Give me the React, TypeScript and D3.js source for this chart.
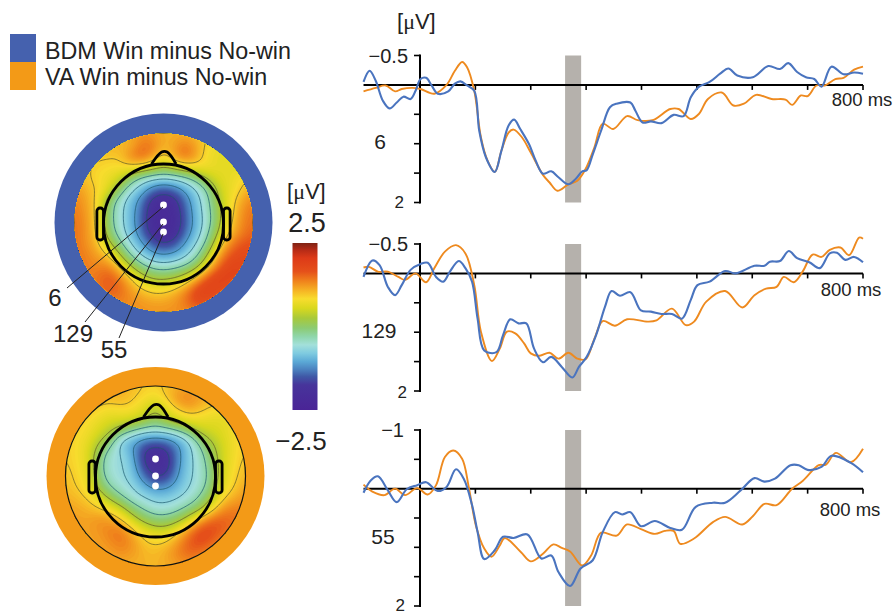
import { useMemo } from "react";
import * as d3 from "d3";

type Pt = [number, number];

const WIDTH = 895;
const HEIGHT = 615;
const FONT = "'Liberation Sans', Arial, sans-serif";
const BLUE = "#4561ae";
const ORANGE = "#f39a17";
const LINE_BLUE = "#4a74bf";
const LINE_ORANGE = "#ee8a1f";
const TEXT = "#222";

// [ms, µV]
const bdm6: Pt[] = [[-102,-.05],[-91,-.24],[-80,-.07],[-67,.27],[-55,.4],[-42,.3],[-30,.2],[-17,.24],[-8,.1],[1,-.1],[11,-.12],[21,.01],[32,.15],[51,.11],[63,-.02],[73,-.06],[85,.01],[98,.1],[107,.78],[119,1.23],[135,1.48],[147,1.12],[160,.69],[170,.59],[181,.75],[197,1.01],[209,1.29],[222,1.51],[237,1.47],[250,1.57],[268,1.69],[281,1.6],[293,1.47],[301,1.45],[312,1.18],[327,.78],[343,.38],[355,.32],[380,.3],[389,.44],[402,.64],[417,.62],[436,.65],[458,.51],[476,.53],[489,.21],[504,.03],[523,-.05],[542,-.19],[557,-.28],[573,-.16],[601,-.13],[629,-.32],[650,-.27],[665,-.37],[681,-.22],[697,-.13],[712,-.1],[725,.03],[743,-.31],[765,-.18],[784,-.21],[800,-.19]];
const va6: Pt[] = [[-102,.11],[-80,.05],[-62,.01],[-45,.11],[-33,.07],[-14,.05],[1,.07],[26,.15],[48,0],[63,-.24],[76,-.39],[85,-.3],[98,.1],[110,.89],[122,1.29],[135,1.48],[147,1.12],[160,.81],[169,.76],[184,.89],[200,1.15],[222,1.53],[234,1.66],[248,1.8],[268,1.69],[284,1.63],[299,1.43],[315,1.06],[330,.66],[349,.75],[374,.53],[393,.6],[420,.6],[452,.41],[467,.41],[489,.58],[504,.49],[520,.24],[545,.13],[566,.35],[585,.32],[607,.17],[635,.24],[660,.25],[672,.34],[688,.18],[700,.19],[716,.01],[731,.01],[750,-.1],[765,-.12],[784,-.26],[800,-.31]];
const bdm129: Pt[] = [[-102,.06],[-86,-.22],[-73,-.14],[-58,.23],[-45,.37],[-33,.2],[-17,-.06],[1,-.16],[14,-.18],[29,.06],[42,.14],[54,-.03],[70,-.21],[82,-.09],[94,.14],[104,.77],[116,1.31],[138,1.34],[150,1.05],[163,.78],[178,.85],[192,.85],[206,1.28],[222,1.51],[237,1.42],[256,1.59],[275,1.77],[287,1.59],[301,1.42],[318,1.05],[334,.57],[346,.3],[361,.38],[380,.32],[399,.63],[417,.65],[436,.69],[455,.69],[473,.77],[489,.45],[501,.2],[523,.14],[551,-.04],[570,0],[604,-.13],[622,-.13],[632,-.2],[650,-.21],[666,-.38],[681,-.26],[703,-.19],[722,-.09],[740,-.34],[753,-.35],[768,-.23],[784,-.28],[800,-.19]];
const va129: Pt[] = [[-102,-.1],[-92,-.11],[-76,-.03],[-58,-.03],[-39,.06],[-27,.11],[-8,0],[11,.15],[26,-.09],[45,-.37],[65,-.48],[82,-.34],[98,.2],[110,.99],[130,1.49],[144,1.28],[157,.99],[172,1.02],[188,1.19],[200,1.36],[216,1.4],[234,1.35],[250,1.45],[268,1.35],[284,1.45],[299,1.46],[315,1.11],[330,.81],[352,.89],[374,.78],[411,.82],[427,.8],[455,.6],[480,.88],[495,.82],[517,.48],[551,.3],[582,.58],[604,.37],[625,.26],[644,.23],[657,.06],[675,.15],[691,-.03],[709,-.32],[725,-.28],[740,-.4],[759,-.44],[775,-.31],[793,-.61],[800,-.59]];
const bdm55: Pt[] = [[-102,.07],[-89,-.14],[-76,-.21],[-58,.03],[-42,.23],[-24,.01],[-5,-.06],[11,-.11],[32,.04],[48,-.03],[65,-.33],[79,-.17],[94,.28],[104,.74],[116,1.2],[135,1.05],[150,.82],[169,.84],[194,.78],[219,1.19],[237,1.14],[250,1.42],[271,1.66],[290,1.36],[312,1.22],[330,.74],[352,.4],[365,.44],[380,.4],[399,.64],[424,.55],[452,.67],[473,.7],[498,.31],[529,.24],[551,.24],[579,.03],[604,-.18],[622,-.12],[641,-.17],[669,-.4],[684,-.4],[700,-.32],[725,-.37],[743,-.56],[778,-.44],[800,-.28]];
const va55: Pt[] = [[-102,-.07],[-86,.05],[-64,.11],[-45,0],[-27,.11],[-5,-.01],[14,.1],[29,-.06],[45,-.54],[60,-.65],[76,-.51],[88,-.03],[101,.63],[116,1.02],[129,1.16],[144,.97],[153,.84],[182,1.08],[200,1.24],[222,1.11],[241,.95],[256,1.01],[271,1.07],[293,1.31],[309,1.14],[327,.75],[355,.8],[374,.61],[399,.69],[424,.77],[442,.72],[458,.72],[470,.94],[495,.85],[529,.57],[551,.48],[582,.61],[601,.47],[622,.26],[644,.28],[672,0],[691,-.13],[720,-.4],[733,-.41],[751,-.61],[778,-.45],[800,-.68]];

const xTicks = [100, 200, 300, 400, 500, 600, 700, 800];
const yTicks6 = [-0.5, 0.5, 1, 1.5, 2];
const yTicks55 = [-1, -0.5, 0.5, 1, 1.5, 2];
const windowMs = [262, 291];

// colour bar, µV → colour
const colorValues = [2.5, 2.3, 2.05, 1.65, 1.35, 1.05, 0.83, 0.55, 0.25, -0.05, -0.3, -0.55, -0.8, -1.05, -1.3, -1.5, -1.75, -2.5];
const colorHexes = ["#7f2314", "#b42a16", "#dd3a18", "#e5501a", "#f0841c", "#f6b825", "#f8dc2e", "#d9d81e", "#a8c93a", "#8ccb73", "#8fd6ab", "#a3e0da", "#7fcbe0", "#5ba9d6", "#4a7fbe", "#3f58a6", "#47349b", "#4a2496"];
const color = d3.scaleLinear<string>().domain(colorValues.slice().reverse()).range(colorHexes.slice().reverse());

// scalp maps, µV sampled on a 17x17 raster across the disk
const mapBdm = [
  [1.1,1.1,1.1,1.1,1.1,1.2,1.25,1.2,1.1,1.1,1.1,1,1,.9,.8,.8,.8],
  [1.1,1.1,1.1,1.1,1.1,1,1.45,1.5,1.1,1.2,1.45,1.15,.85,.75,.75,.75,.75],
  [1,1,1,1,.95,1.4,1.65,1.3,.8,1.3,1.6,1.2,.75,.65,.65,.65,.65],
  [1.1,1,.9,.85,.85,.9,.8,.6,.35,.55,.75,.85,.8,.7,.65,.65,.65],
  [1.15,1,.85,.75,.55,.05,-.4,-.55,-.65,-.55,-.4,-.05,.4,.65,.7,.85,1],
  [1.3,1.1,.95,.7,.1,-.55,-.85,-1.3,-1.5,-1.35,-1,-.65,-.2,.5,.7,.95,1.2],
  [1.4,1.2,.95,.1,-.45,-.85,-1.25,-1.9,-2.1,-1.9,-1.3,-.8,-.35,.3,.8,1.15,1.4],
  [1.45,1.25,.95,-.05,-.5,-.9,-1.35,-2.05,-2.25,-2.05,-1.4,-.85,-.4,.2,.8,1.3,1.5],
  [1.5,1.3,.95,-.05,-.5,-.9,-1.4,-2.1,-2.3,-2.1,-1.45,-.9,-.45,.2,.9,1.35,1.5],
  [1.5,1.3,1,.05,-.4,-.85,-1.3,-1.9,-2.2,-2,-1.3,-.85,-.3,.4,1.05,1.4,1.6],
  [1.5,1.3,1.1,.55,-.1,-.6,-1,-1.45,-1.7,-1.5,-1,-.6,-.1,.8,1.4,1.7,1.7],
  [1.5,1.4,1.25,1,.45,-.25,-.65,-.95,-1.05,-.95,-.7,-.35,.35,1.25,1.7,1.8,1.8],
  [1.45,1.4,1.35,1.45,1,.4,-.1,-.35,-.45,-.35,-.2,.15,.9,1.6,1.9,1.9,1.8],
  [1.4,1.4,1.45,1.7,1.45,1,.55,.25,.2,.3,.55,1.1,1.75,2,1.95,1.8,1.7],
  [1.4,1.4,1.4,1.65,1.6,1.25,1,.85,.85,1,1.3,1.85,2,1.85,1.6,1.5,1.4],
  [1.4,1.4,1.4,1.4,1.4,1.35,1.25,1.15,1.15,1.25,1.5,1.85,1.75,1.5,1.4,1.4,1.4],
  [1.3,1.3,1.3,1.3,1.3,1.3,1.3,1.3,1.3,1.3,1.3,1.4,1.4,1.4,1.3,1.3,1.3],
];
const mapVa = [
  [1.1,1.1,1.1,1.1,1.1,1.1,1.05,.95,.9,1,1.1,1.1,1.1,1.1,1.1,1.1,1.1],
  [1.1,1.1,1.1,1.1,1.1,1.15,1,.85,.8,1,1.35,1.45,1.2,1.1,1.1,1.1,1.1],
  [1.1,1.1,1.1,.9,.8,.9,.85,.65,.2,.7,1,1.2,1.05,.9,.85,.85,.85],
  [1.1,.95,.85,.7,.6,.6,.55,.35,.05,.4,.6,.75,.75,.65,.65,.75,.85],
  [.95,.9,.8,.6,.35,.05,-.3,-.5,-.55,-.5,-.3,.05,.45,.55,.65,.8,.95],
  [.95,.85,.7,.3,-.05,-.9,-1.1,-1.4,-1.5,-1.4,-1.15,-.75,-.1,.3,.55,.8,.95],
  [.95,.85,.65,0,-.5,-.65,-1,-1.85,-2.15,-1.9,-1.2,-.75,-.4,.1,.55,.8,1],
  [1,.85,.7,-.15,-.55,-.6,-.85,-1.75,-2.1,-2,-1.15,-.75,-.45,-.05,.55,.85,1.05],
  [1.05,.9,.75,-.1,-.5,-.6,-.8,-1.35,-1.85,-1.7,-1.05,-.7,-.5,-.1,.6,.9,1.1],
  [1.05,.95,.8,.15,-.3,-.5,-.65,-.95,-1.2,-1.15,-.9,-.65,-.45,0,.7,.95,1.2],
  [1.15,1.05,.95,.7,.2,-.2,-.5,-.6,-.75,-.75,-.65,-.5,-.2,.3,.95,1.15,1.3],
  [1.2,1.2,1.1,1,.9,.55,0,-.3,-.5,-.5,-.35,-.1,.2,.85,1.35,1.45,1.4],
  [1.2,1.2,1.2,1.35,1.25,1.05,.6,.2,0,0,.2,.65,1.3,1.65,1.65,1.5,1.4],
  [1.2,1.2,1.2,1.25,1.45,1.5,1.1,.8,.6,.6,.95,1.45,1.85,1.75,1.55,1.4,1.3],
  [1.2,1.2,1.2,1.2,1.3,1.45,1.3,1,.95,1,1.3,1.65,1.75,1.55,1.3,1.2,1.2],
  [1.2,1.2,1.2,1.2,1.2,1.3,1.2,1.1,1.05,1.2,1.4,1.55,1.4,1.2,1.2,1.2,1.2],
  [1.1,1.1,1.1,1.1,1.1,1.1,1.1,1.1,1.1,1.1,1.2,1.2,1.2,1.1,1.1,1.1,1.1],
];
const lineLevels = [-1.7, -1.1, -0.65, -0.25, 0.3, 0.95];
const fillLevels = d3.range(-2.5, 2.5, 0.04);

// refines the raster for drawing only, so the bands come out smooth
function refine(grid: number[][], factor: number) {
  const n = grid.length;
  const m = (n - 1) * factor + 1;
  const data = new Float64Array(m * m);
  for (let j = 0; j < m; j++) {
    const gy = j / factor;
    const j0 = Math.min(n - 2, Math.floor(gy));
    for (let i = 0; i < m; i++) {
      const gx = i / factor;
      const i0 = Math.min(n - 2, Math.floor(gx));
      const top = d3.interpolateNumber(grid[j0][i0], grid[j0][i0 + 1])(gx - i0);
      const bot = d3.interpolateNumber(grid[j0 + 1][i0], grid[j0 + 1][i0 + 1])(gx - i0);
      data[j * m + i] = d3.interpolateNumber(top, bot)(gy - j0);
    }
  }
  d3.blur2({ data, width: m, height: m }, factor * 0.42);
  return { data, m };
}

const ScalpMap = ({ id, cx, cy, grid, ringColor, ringR, diskR, thinCircle, headDy, electrodes }: any) => {
  const { bands, lines } = useMemo(() => {
    const { data, m } = refine(grid, 8);
    const k = (2 * diskR) / (m - 1);
    const path = d3.geoPath(d3.geoIdentity().scale(k).translate([cx - diskR - k / 2, cy - diskR - k / 2]) as any);
    const contours = d3.contours().size([m, m]);
    const bands = contours.thresholds(fillLevels)(data as any).map((c) => ({ v: c.value, d: path(c) as string }));
    const lines = contours.thresholds(lineLevels)(data as any).map((c) => path(c) as string);
    return { bands, lines };
  }, [grid, cx, cy, diskR]);

  const headR = 60;
  const hy = cy + headDy;
  const nose = d3.line().curve(d3.curveCatmullRom)([
    [cx - headR * 0.2, hy - headR * 1.0],
    [cx - headR * 0.03, hy - headR * 1.2],
    [cx + headR * 0.06, hy - headR * 1.2],
    [cx + headR * 0.21, hy - headR * 1.0],
  ]) as string;

  return (
    <g>
      <clipPath id={id}><circle cx={cx} cy={cy} r={diskR} /></clipPath>
      <circle cx={cx} cy={cy} r={ringR} fill={ringColor} />
      <g clipPath={`url(#${id})`}>
        <rect x={cx - diskR} y={cy - diskR} width={2 * diskR} height={2 * diskR} fill={color(-2.5)} />
        {bands.map((b) => <path key={b.v} d={b.d} fill={color(b.v)} />)}
        {lines.map((d, i) => <path key={i} d={d} fill="none" stroke={i < 4 ? "#1d5a70" : "#5f5a2a"} strokeOpacity={0.8} strokeWidth={0.9} />)}
      </g>
      {thinCircle && <circle cx={cx} cy={cy} r={diskR} fill="none" stroke="#111" strokeWidth={1.2} />}
      <g fill="none" stroke="#000" strokeWidth={2.8} strokeLinejoin="round">
        <circle cx={cx} cy={hy} r={headR} />
        <path d={nose} />
        {[-1, 1].map((s) => (
          <rect key={s} x={s < 0 ? cx - headR * 1.11 : cx + headR * 1.0} y={hy - 16} width={headR * 0.11} height={32} rx={3} />
        ))}
      </g>
      {electrodes.map((y: number) => <circle key={y} cx={cx} cy={y} r={3.4} fill="#fff" />)}
    </g>
  );
};

const ErpPanel = ({ top, bottom, domain, yTicks, bdm, va, label, labelX, labelY, topLabel, topLabelX, twoX, twoY, msX, msY }: any) => {
  const x = d3.scaleLinear().domain([0, 800]).range([420, 863]);
  const y = d3.scaleLinear().domain(domain).range([top, bottom]);
  const line = d3.line<Pt>().x((d) => x(d[0])).y((d) => y(d[1])).curve(d3.curveCatmullRom.alpha(0.5));
  return (
    <g>
      <rect x={x(windowMs[0])} y={top} width={x(windowMs[1]) - x(windowMs[0])} height={bottom - top} fill="#b5b1ac" />
      <g stroke="#000" strokeWidth={2} fill="none">
        <line x1={x(0)} x2={x(0)} y1={top - 1} y2={bottom + 1} />
        <line x1={x(-102)} x2={x(800)} y1={y(0)} y2={y(0)} />
        {yTicks.map((t: number) => <line key={t} x1={x(0) - 6} x2={x(0)} y1={y(t)} y2={y(t)} strokeWidth={1.6} />)}
        {xTicks.map((t) => <line key={t} x1={x(t)} x2={x(t)} y1={y(0)} y2={y(0) + 5} strokeWidth={1.6} />)}
      </g>
      <path d={line(va) as string} fill="none" stroke={LINE_ORANGE} strokeWidth={1.9} />
      <path d={line(bdm) as string} fill="none" stroke={LINE_BLUE} strokeWidth={2.1} />
      <g fontFamily={FONT} fill={TEXT}>
        <text x={topLabelX} y={top + 7} fontSize={20} textAnchor="end">{topLabel}</text>
        <text x={twoX} y={twoY} fontSize={17} textAnchor="end">2</text>
        <text x={labelX} y={labelY} fontSize={21} textAnchor="middle">{label}</text>
        <text x={msX} y={msY} fontSize={18.5} textAnchor="middle">800 ms</text>
      </g>
    </g>
  );
};

const MuV = ({ x, y }: { x: number; y: number }) => (
  <text x={x} y={y} fontFamily={FONT} fontSize={22} fill={TEXT}>
    [<tspan fontFamily="'Liberation Serif', serif">μ</tspan>V]
  </text>
);

export default function App() {
  const barY = d3.scaleLinear().domain([2.5, -2.5]).range([243, 410]);
  return (
    <svg width={WIDTH} height={HEIGHT} style={{ position: "absolute", left: 0, top: 0, background: "#fff" }}>
      <defs>
        <linearGradient id="bar" x1="0" x2="0" y1="0" y2="1">
          {colorValues.map((v, i) => <stop key={v} offset={(2.5 - v) / 5} stopColor={colorHexes[i]} />)}
        </linearGradient>
      </defs>

      {/* legend */}
      <rect x={10} y={34} width={26} height={28} fill={BLUE} />
      <rect x={10} y={62} width={26} height={28} fill={ORANGE} />
      <g fontFamily={FONT} fontSize={23.3} fill={TEXT}>
        <text x={45} y={59}>BDM Win minus No-win</text>
        <text x={45} y={85}>VA Win minus No-win</text>
      </g>

      <ScalpMap id="clipBdm" cx={163.5} cy={222.5} grid={mapBdm} ringColor={BLUE} ringR={109} diskR={89} headDy={1.5} electrodes={[205, 222, 232]} />
      <ScalpMap id="clipVa" cx={155.5} cy={476} grid={mapVa} ringColor={ORANGE} ringR={109} diskR={90} thinCircle headDy={1} electrodes={[459, 476, 486]} />

      {/* electrode leaders */}
      <g stroke="#222" strokeWidth={1}>
        <line x1={163} y1={207} x2={67} y2={288} />
        <line x1={163} y1={224} x2={85} y2={322} />
        <line x1={163} y1={234} x2={119} y2={338} />
      </g>
      <g fontFamily={FONT} fontSize={24} fill={TEXT} textAnchor="middle">
        <text x={55} y={306}>6</text>
        <text x={73} y={342}>129</text>
        <text x={114} y={358}>55</text>
      </g>

      {/* colour bar */}
      <MuV x={287} y={199} />
      <rect x={292.5} y={barY(2.5)} width={25} height={barY(-2.5) - barY(2.5)} fill="url(#bar)" />
      <g fontFamily={FONT} fill={TEXT} textAnchor="middle">
        <text x={307} y={232} fontSize={27}>2.5</text>
        <text x={301} y={450} fontSize={26}>−2.5</text>
      </g>

      <MuV x={397} y={29} />
      <ErpPanel top={55.5} bottom={202.5} domain={[-0.5, 2]} yTicks={yTicks6} bdm={bdm6} va={va6} label="6" labelX={380} labelY={149} topLabel="−0.5" topLabelX={408} twoX={404} twoY={208} msX={862} msY={106} />
      <ErpPanel top={244} bottom={391} domain={[-0.5, 2]} yTicks={yTicks6} bdm={bdm129} va={va129} label="129" labelX={379} labelY={338} topLabel="−0.5" topLabelX={408} twoX={407} twoY={398} msX={851} msY={296} />
      <ErpPanel top={430} bottom={606} domain={[-1, 2]} yTicks={yTicks55} bdm={bdm55} va={va55} label="55" labelX={383} labelY={544} topLabel="−1" topLabelX={404} twoX={405} twoY={611} msX={850} msY={516} />
    </svg>
  );
}
